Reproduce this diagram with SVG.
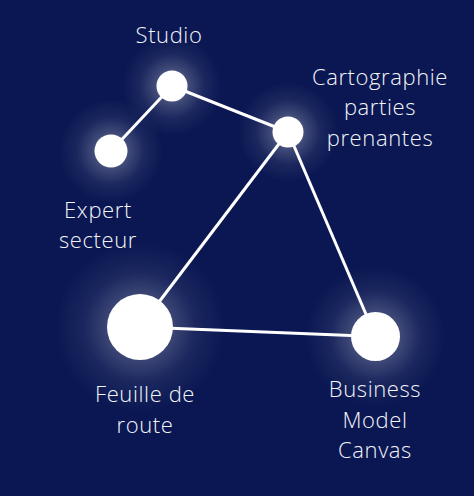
<svg xmlns="http://www.w3.org/2000/svg" width="474" height="496" viewBox="0 0 474 496">
  <defs>
    <radialGradient id="glow">
      <stop offset="0" stop-color="#ffffff" stop-opacity="0.5"/>
      <stop offset="0.35" stop-color="#ffffff" stop-opacity="0.22"/>
      <stop offset="0.65" stop-color="#ffffff" stop-opacity="0.07"/>
      <stop offset="1" stop-color="#ffffff" stop-opacity="0"/>
    </radialGradient>
    <style>
      .bg { fill: #0a1752; }
      .edge { stroke: #ffffff; stroke-width: 3; fill: none; }
      .node { fill: #ffffff; }
      .halo { fill: url(#glow); }
      .label { fill: #f4f5f9; font-family: "Open Sans", "Noto Sans", sans-serif; font-size: 22px; font-weight: 300; letter-spacing: 0.6px; text-anchor: middle; }
    </style>
  </defs>
  <rect class="bg" x="0" y="0" width="474" height="496"/>
  <g id="halos">
    <circle class="halo" cx="172" cy="86" r="50"/>
    <circle class="halo" cx="111" cy="151" r="52"/>
    <circle class="halo" cx="288" cy="132" r="50"/>
    <circle class="halo" cx="140" cy="327" r="85"/>
    <circle class="halo" cx="375.5" cy="336.5" r="70"/>
  </g>
  <g id="connectors">
    <line class="edge" x1="172" y1="86" x2="111" y2="151"/>
    <line class="edge" x1="172" y1="86" x2="288" y2="132"/>
    <line class="edge" x1="288" y1="132" x2="140" y2="327"/>
    <line class="edge" x1="288" y1="132" x2="375.5" y2="336.5"/>
    <line class="edge" x1="140" y1="327" x2="375.5" y2="336.5"/>
  </g>
  <g id="node-studio">
    <circle class="node" cx="172" cy="86" r="15.5"/>
    <text class="label" x="169" y="43">Studio</text>
  </g>
  <g id="node-expert">
    <circle class="node" cx="111" cy="151" r="16.5"/>
    <text class="label" x="98" y="218">Expert</text>
    <text class="label" x="98" y="248">secteur</text>
  </g>
  <g id="node-cartographie">
    <circle class="node" cx="288" cy="132" r="15.5"/>
    <text class="label" x="380" y="85">Cartographie</text>
    <text class="label" x="380" y="115">parties</text>
    <text class="label" x="380" y="146">prenantes</text>
  </g>
  <g id="node-feuille">
    <circle class="node" cx="140" cy="327" r="33"/>
    <text class="label" x="145" y="402">Feuille de</text>
    <text class="label" x="145" y="433">route</text>
  </g>
  <g id="node-business">
    <circle class="node" cx="375.5" cy="336.5" r="24.5"/>
    <text class="label" x="375" y="397">Business</text>
    <text class="label" x="375" y="428">Model</text>
    <text class="label" x="375" y="458">Canvas</text>
  </g>
</svg>
